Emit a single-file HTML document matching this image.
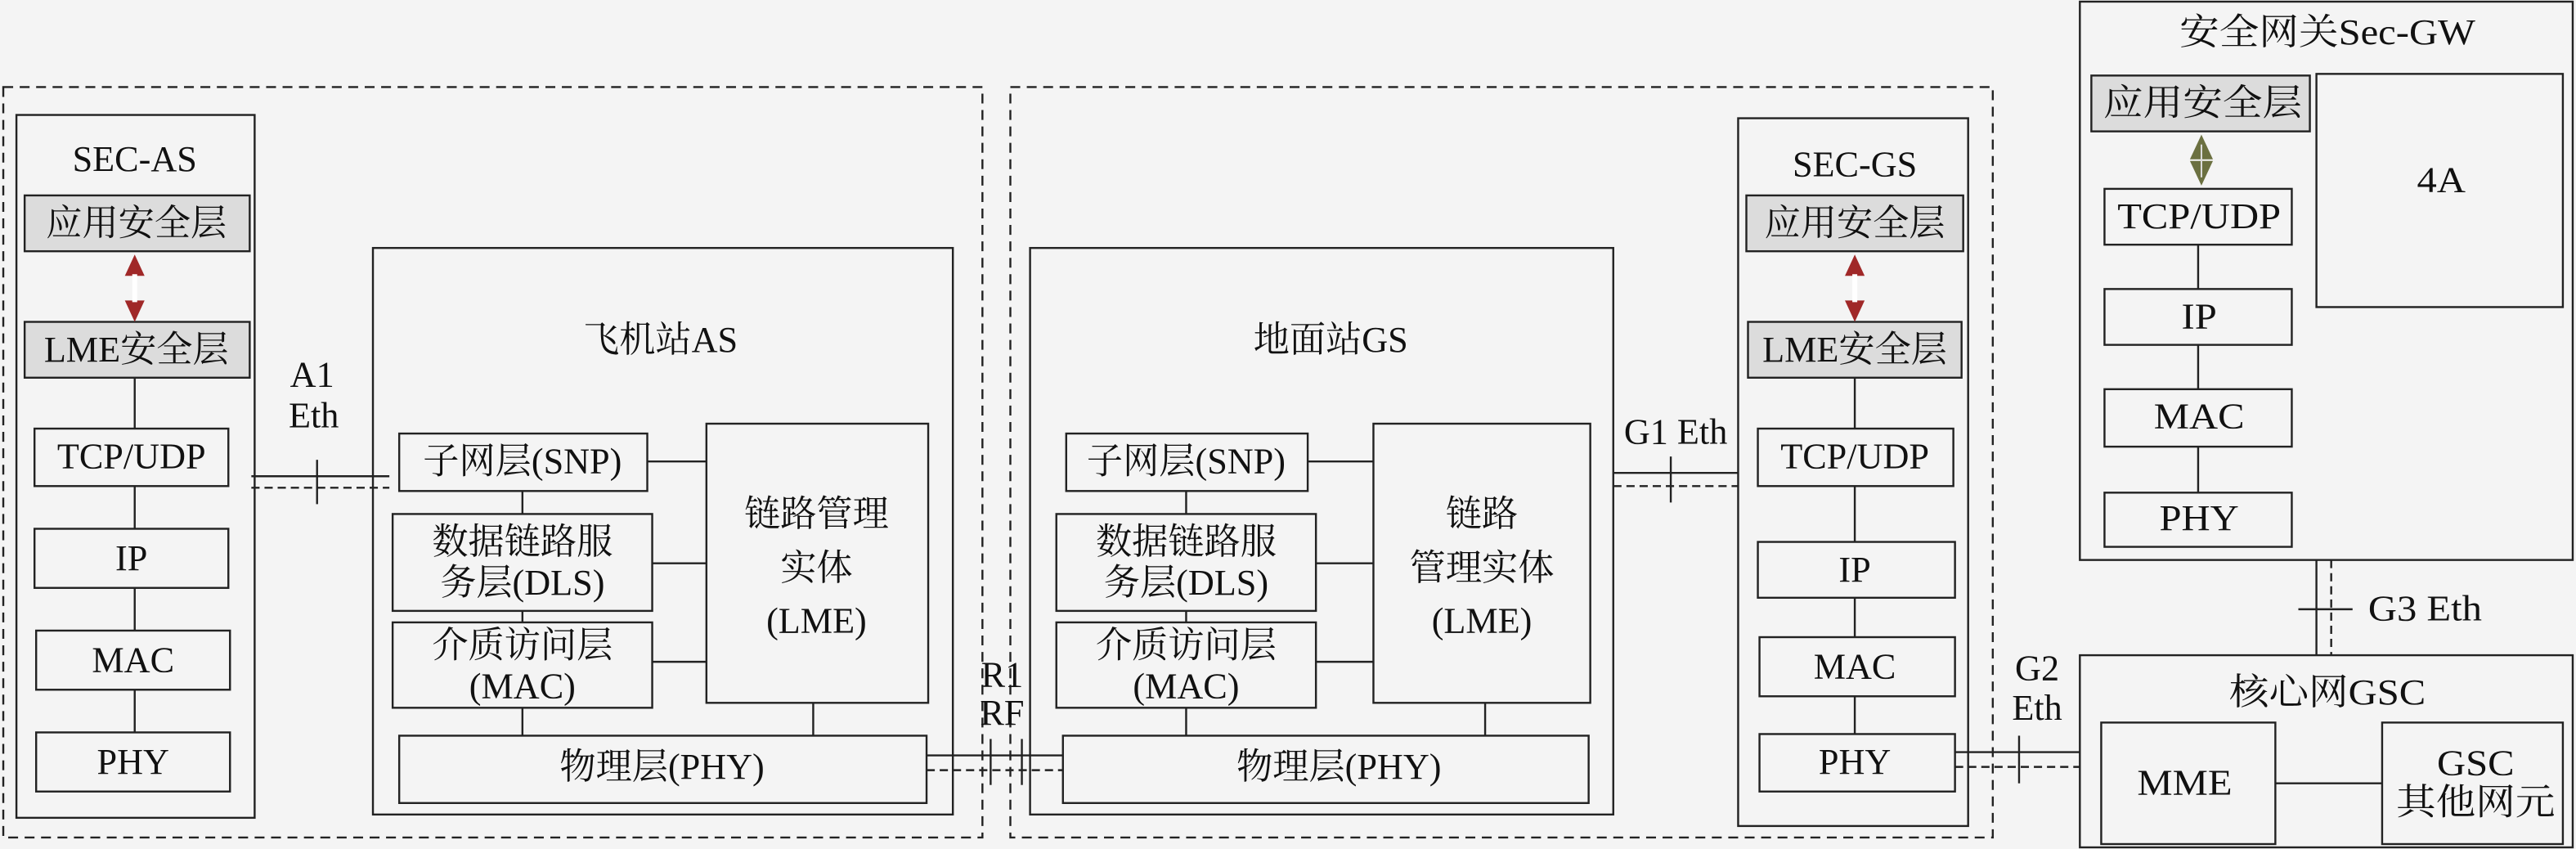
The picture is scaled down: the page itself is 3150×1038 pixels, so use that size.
<!DOCTYPE html>
<html><head><meta charset="utf-8"><style>
html,body{margin:0;padding:0;background:#f4f4f4;}
svg{display:block}
text{font-family:"Liberation Serif","Noto Serif CJK SC",serif;fill:#111;text-anchor:middle;dominant-baseline:central;}
</style></head><body>
<svg width="3150" height="1038" viewBox="0 0 1568 517" preserveAspectRatio="none" xmlns="http://www.w3.org/2000/svg">
<rect x="0" y="0" width="1568" height="517" fill="#f4f4f4"/>
<g fill="none" stroke="#222" stroke-width="1.2">
<rect x="2" y="53" width="596" height="457" stroke-dasharray="6,4"/>
<rect x="615" y="53" width="598" height="457" stroke-dasharray="6,4"/>
<rect x="10" y="70" width="145" height="428"/>
<rect x="15" y="119" width="137" height="34" fill="#dcdcdc"/>
<rect x="15" y="196" width="137" height="34" fill="#dcdcdc"/>
<rect x="21" y="261" width="118" height="35"/>
<rect x="21" y="322" width="118" height="36"/>
<rect x="22" y="384" width="118" height="36"/>
<rect x="22" y="446" width="118" height="36"/>
<line x1="82" y1="230" x2="82" y2="261"/><line x1="82" y1="296" x2="82" y2="322"/><line x1="82" y1="358" x2="82" y2="384"/><line x1="82" y1="420" x2="82" y2="446"/>
<rect x="227" y="151" width="353" height="345"/>
<rect x="243" y="264" width="151" height="35"/>
<rect x="239" y="313" width="158" height="59"/>
<rect x="239" y="379" width="158" height="52"/>
<rect x="430" y="258" width="135" height="170"/>
<rect x="243" y="448" width="321" height="41"/>
<line x1="394" y1="281" x2="430" y2="281"/><line x1="397" y1="343" x2="430" y2="343"/><line x1="397" y1="403" x2="430" y2="403"/>
<line x1="318" y1="299" x2="318" y2="313"/><line x1="318" y1="372" x2="318" y2="379"/><line x1="318" y1="431" x2="318" y2="448"/><line x1="495" y1="428" x2="495" y2="448"/>
<line x1="153" y1="290" x2="237" y2="290"/><line x1="153" y1="297" x2="237" y2="297" stroke-dasharray="5,3"/><line x1="193" y1="280" x2="193" y2="307"/>
<line x1="564" y1="460" x2="647" y2="460"/><line x1="564" y1="469" x2="647" y2="469" stroke-dasharray="5,3"/><line x1="603" y1="450" x2="603" y2="478"/><line x1="622" y1="450" x2="622" y2="478"/>
<rect x="627" y="151" width="355" height="345"/>
<rect x="649" y="264" width="147" height="35"/>
<rect x="643" y="313" width="158" height="59"/>
<rect x="643" y="379" width="158" height="52"/>
<rect x="836" y="258" width="132" height="170"/>
<rect x="647" y="448" width="320" height="41"/>
<line x1="796" y1="281" x2="836" y2="281"/><line x1="801" y1="343" x2="836" y2="343"/><line x1="801" y1="403" x2="836" y2="403"/>
<line x1="722" y1="299" x2="722" y2="313"/><line x1="722" y1="372" x2="722" y2="379"/><line x1="722" y1="431" x2="722" y2="448"/><line x1="904" y1="428" x2="904" y2="448"/>
<rect x="1058" y="72" width="140" height="431"/>
<rect x="1063" y="119" width="132" height="34" fill="#dcdcdc"/>
<rect x="1064" y="196" width="130" height="34" fill="#dcdcdc"/>
<rect x="1070" y="261" width="119" height="35"/>
<rect x="1070" y="330" width="120" height="34"/>
<rect x="1071" y="388" width="119" height="36"/>
<rect x="1071" y="447" width="119" height="35"/>
<line x1="1129" y1="230" x2="1129" y2="261"/><line x1="1129" y1="296" x2="1129" y2="330"/><line x1="1129" y1="364" x2="1129" y2="388"/><line x1="1129" y1="424" x2="1129" y2="447"/>
<line x1="982" y1="288" x2="1058" y2="288"/><line x1="982" y1="296" x2="1058" y2="296" stroke-dasharray="5,3"/><line x1="1017" y1="278" x2="1017" y2="306"/>
<line x1="1190" y1="458" x2="1266" y2="458"/><line x1="1190" y1="467" x2="1266" y2="467" stroke-dasharray="5,3"/><line x1="1229" y1="448" x2="1229" y2="477"/>
<rect x="1266" y="1" width="300" height="340"/>
<rect x="1273" y="46" width="133" height="34" fill="#dcdcdc"/>
<rect x="1281" y="115" width="114" height="34"/>
<rect x="1281" y="176" width="114" height="34"/>
<rect x="1281" y="237" width="114" height="35"/>
<rect x="1281" y="300" width="114" height="33"/>
<rect x="1410" y="45" width="150" height="142"/>
<line x1="1338" y1="149" x2="1338" y2="176"/><line x1="1338" y1="210" x2="1338" y2="237"/><line x1="1338" y1="272" x2="1338" y2="300"/>
<line x1="1410" y1="341" x2="1410" y2="399"/><line x1="1419" y1="341" x2="1419" y2="399" stroke-dasharray="5,3"/><line x1="1399" y1="371" x2="1432" y2="371"/>
<rect x="1266" y="399" width="300" height="117"/>
<rect x="1279" y="440" width="106" height="74"/>
<rect x="1450" y="440" width="110" height="74"/>
<line x1="1385" y1="477" x2="1450" y2="477"/>
</g>
<g>
<polygon points="82,155 76,168 88,168" fill="#a02828"/><polygon points="82,196 76,183 88,183" fill="#a02828"/>
<line x1="82" y1="167" x2="82" y2="184" stroke="#fff" stroke-width="3"/>
<polygon points="1129,155 1123,168 1135,168" fill="#a02828"/><polygon points="1129,196 1123,183 1135,183" fill="#a02828"/>
<line x1="1129" y1="167" x2="1129" y2="184" stroke="#fff" stroke-width="3"/>
<polygon points="1340,82 1333,97 1347,97" fill="#6b7040"/><polygon points="1340,113 1333,98 1347,98" fill="#6b7040"/>
<line x1="1340" y1="88" x2="1340" y2="108" stroke="#ddd" stroke-width="1"/>
</g>
<g font-size="22">
<text x="82" y="97">SEC-AS</text>
<text x="83" y="136">应用安全层</text>
<text x="83" y="213">LME安全层</text>
<text x="80" y="278">TCP/UDP</text>
<text x="80" y="340">IP</text>
<text x="81" y="402">MAC</text>
<text x="81" y="464">PHY</text>
<text x="190" y="228">A1</text>
<text x="191" y="253">Eth</text>
<text x="402" y="207">飞机站AS</text>
<text x="318" y="281">子网层(SNP)</text>
<text x="318" y="330">数据链路服</text>
<text x="318" y="355">务层(DLS)</text>
<text x="318" y="393">介质访问层</text>
<text x="318" y="418">(MAC)</text>
<text x="497" y="313">链路管理</text>
<text x="497" y="346">实体</text>
<text x="497" y="378">(LME)</text>
<text x="403" y="467">物理层(PHY)</text>
<text x="610" y="411">R1</text>
<text x="610" y="434">RF</text>
<text x="810" y="207">地面站GS</text>
<text x="722" y="281">子网层(SNP)</text>
<text x="722" y="330">数据链路服</text>
<text x="722" y="355">务层(DLS)</text>
<text x="722" y="393">介质访问层</text>
<text x="722" y="418">(MAC)</text>
<text x="902" y="313">链路</text>
<text x="902" y="346">管理实体</text>
<text x="902" y="378">(LME)</text>
<text x="815" y="467">物理层(PHY)</text>
<text x="1020" y="263">G1 Eth</text>
<text x="1129" y="100">SEC-GS</text>
<text x="1129" y="136">应用安全层</text>
<text x="1129" y="213">LME安全层</text>
<text x="1129" y="278">TCP/UDP</text>
<text x="1129" y="347">IP</text>
<text x="1129" y="406">MAC</text>
<text x="1129" y="464">PHY</text>
<text x="1240" y="407">G2</text>
<text x="1240" y="431">Eth</text>
</g>
<g font-size="22" transform="translate(1266,0) scale(1.1,1) translate(-1266,0)">
<text x="1403" y="20">安全网关Sec-GW</text>
<text x="1334" y="63">应用安全层</text>
<text x="1332" y="132">TCP/UDP</text>
<text x="1332" y="193">IP</text>
<text x="1332" y="254">MAC</text>
<text x="1332" y="316">PHY</text>
<text x="1466" y="110">4A</text>
<text x="1457" y="371">G3 Eth</text>
<text x="1403" y="422">核心网GSC</text>
<text x="1324" y="477">MME</text>
<text x="1485" y="465">GSC</text>
<text x="1485" y="489">其他网元</text>
</g>
</svg>
</body></html>
